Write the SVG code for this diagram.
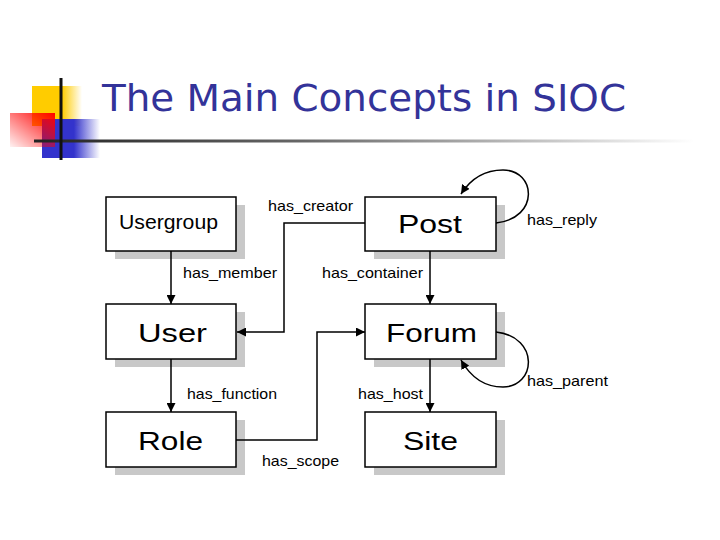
<svg xmlns="http://www.w3.org/2000/svg" width="720" height="540" viewBox="0 0 720 540">
<defs>
<linearGradient id="gy" x1="0" y1="0" x2="1" y2="0"><stop offset="0" stop-color="#ffcc00"/><stop offset="0.6" stop-color="#ffcc00"/><stop offset="1" stop-color="#ffcc00" stop-opacity="0"/></linearGradient>
<linearGradient id="gb" x1="0" y1="0" x2="1" y2="0"><stop offset="0" stop-color="#3333cc"/><stop offset="0.55" stop-color="#3333cc"/><stop offset="1" stop-color="#3333cc" stop-opacity="0"/></linearGradient>
<linearGradient id="gr" x1="1" y1="0" x2="0" y2="1"><stop offset="0" stop-color="#ff0000"/><stop offset="1" stop-color="#ff0000" stop-opacity="0.05"/></linearGradient>
<linearGradient id="gl" x1="0" y1="0" x2="1" y2="0"><stop offset="0" stop-color="#222"/><stop offset="0.4" stop-color="#666"/><stop offset="1" stop-color="#fff"/></linearGradient>
<marker id="ah" viewBox="0 0 10 10" refX="10" refY="5" markerWidth="9" markerHeight="9" markerUnits="userSpaceOnUse" orient="auto"><path d="M0,0 L10,5 L0,10 Z" fill="#000"/></marker>
<style>
.shadow{fill:#c8c8c8}
.box{fill:#fff;stroke:#000;stroke-width:1.5}
.nl{font-family:"Liberation Sans",Arial,sans-serif;font-size:26px;fill:#000}
.sm{font-size:21px}
.el{font-family:"Liberation Sans",Arial,sans-serif;font-size:15px;fill:#000}
.c{fill:none;stroke:#000;stroke-width:1.5;marker-end:url(#ah)}
</style>
</defs>
<rect width="720" height="540" fill="#fff"/>
<g id="decor">
<rect x="32" y="86" width="50" height="40" fill="url(#gy)"/>
<rect x="42" y="119" width="58" height="39" fill="url(#gb)"/>
<rect x="10" y="113" width="45" height="34" fill="url(#gr)"/>
<rect x="34" y="139.5" width="660" height="3" fill="url(#gl)"/>
<rect x="59.5" y="78" width="3" height="82" fill="#111"/>
</g>
<text x="102" y="111" font-family="DejaVu Sans,Tahoma,sans-serif" font-size="38" fill="#333399" textLength="524" lengthAdjust="spacingAndGlyphs">The Main Concepts in SIOC</text>
<g id="usergroup"><rect class="shadow" x="115" y="205" width="130" height="54"/><rect class="box" x="106" y="197" width="130" height="54"/><text class="nl sm" x="119" y="229" textLength="99" lengthAdjust="spacingAndGlyphs">Usergroup</text></g>
<g id="post"><rect class="shadow" x="374" y="205" width="131" height="54"/><rect class="box" x="365" y="197" width="131" height="54"/><text class="nl" x="398" y="233" textLength="64" lengthAdjust="spacingAndGlyphs">Post</text></g>
<g id="user"><rect class="shadow" x="115" y="312" width="130" height="55"/><rect class="box" x="106" y="304" width="130" height="55"/><text class="nl" x="138" y="342" textLength="69" lengthAdjust="spacingAndGlyphs">User</text></g>
<g id="forum"><rect class="shadow" x="374" y="312" width="131" height="55"/><rect class="box" x="365" y="304" width="131" height="55"/><text class="nl" x="386" y="342" textLength="91" lengthAdjust="spacingAndGlyphs">Forum</text></g>
<g id="role"><rect class="shadow" x="115" y="420" width="130" height="55"/><rect class="box" x="106" y="412" width="130" height="55"/><text class="nl" x="138" y="450" textLength="65" lengthAdjust="spacingAndGlyphs">Role</text></g>
<g id="site"><rect class="shadow" x="374" y="420" width="131" height="55"/><rect class="box" x="365" y="412" width="131" height="55"/><text class="nl" x="403" y="450" textLength="55" lengthAdjust="spacingAndGlyphs">Site</text></g>
<g id="connectors">
<path class="c" d="M171,251 V304"/>
<path class="c" d="M430,251 V304"/>
<path class="c" d="M171,359 V412"/>
<path class="c" d="M430,359 V412"/>
<path class="c" d="M365,223 H284 V332 H237"/>
<path class="c" d="M236,440 H317 V332 H365"/>
<path class="c" d="M496,223 C540,218 536,170 503,170 C484,170 470,180 461,194"/>
<path class="c" d="M496,332 C540,337 536,387 503,387 C484,387 470,376 461,360"/>
<text class="el" x="268" y="211" textLength="85" lengthAdjust="spacingAndGlyphs">has_creator</text>
<text class="el" x="183" y="278" textLength="94" lengthAdjust="spacingAndGlyphs">has_member</text>
<text class="el" x="322" y="278" textLength="101" lengthAdjust="spacingAndGlyphs">has_container</text>
<text class="el" x="187" y="399" textLength="90" lengthAdjust="spacingAndGlyphs">has_function</text>
<text class="el" x="358" y="399" textLength="65" lengthAdjust="spacingAndGlyphs">has_host</text>
<text class="el" x="262" y="466" textLength="77" lengthAdjust="spacingAndGlyphs">has_scope</text>
<text class="el" x="527" y="225" textLength="70" lengthAdjust="spacingAndGlyphs">has_reply</text>
<text class="el" x="527" y="386" textLength="81" lengthAdjust="spacingAndGlyphs">has_parent</text>
</g>
</svg>
